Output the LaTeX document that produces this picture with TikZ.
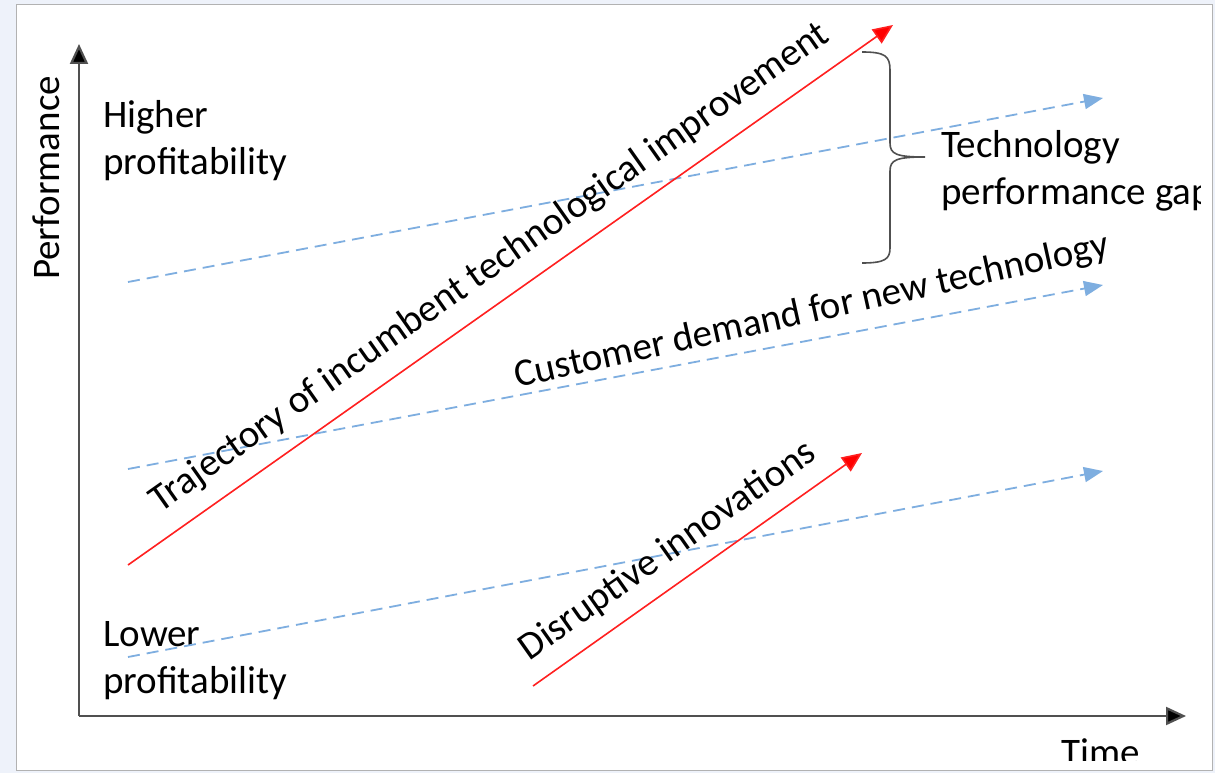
\documentclass[tikz,border=0pt]{standalone}
\usepackage{fontspec}
\setmainfont{Carlito}
\usetikzlibrary{arrows.meta}
\definecolor{panelbg}{HTML}{EEF2FA}
\definecolor{axisgray}{HTML}{505050}
\definecolor{demandblue}{HTML}{7EAEE0}
\definecolor{trajred}{HTML}{FF2020}

\begin{document}
\begin{tikzpicture}[x=1pt,y=-1pt,
    lbl/.style = {font=\fontsize{39}{47}\selectfont,inner sep=0pt,align=left},
    axis/.style = {draw=axisgray,line width=2.2pt,-{Triangle[length=20pt,width=18pt,fill=black]}},
    trend/.style = {draw=trajred,line width=1.6pt,-{Triangle[length=20pt,width=17pt,fill=red]}},
    demand/.style = {draw=demandblue,line width=1.8pt,dash pattern=on 12pt off 7pt,-{Triangle[length=19pt,width=15pt]}}]
\useasboundingbox (0,0) rectangle (1215,773);
\fill[panelbg] (0,0) rectangle (1215,773);
\filldraw[fill=white,draw=gray!60,line width=1pt] (16,5) rectangle (1212,770);
\begin{scope}
\clip (17,6) rectangle (1200,760);
% axes
\coordinate (o) at (79,716);
\coordinate (ytip) at (79,44);
\coordinate (xtip) at (1186,716);
\draw[axis] (o) -- (ytip);
\draw[axis] (o) -- (xtip);
\node[lbl,rotate=90] (perf) at (46,178) {Performance};
\node[lbl,anchor=north] (time) at (1101,738) {Time};
\node[lbl,anchor=north west] (high) at (103,100) {Higher\\profitability};
\node[lbl,anchor=north west] (low) at (103,621) {Lower\\profitability};
% customer demand lines
\foreach \ya/\yb [count=\k] in {282/98,469/285,657/471} {
    \coordinate (d\k a) at (128,\ya);
    \coordinate (d\k b) at (1103,\yb);
    \draw[demand] (d\k a) -- (d\k b);
}
% technology trajectories
\coordinate (inc a) at (128,565);
\coordinate (inc b) at (893,25);
\coordinate (dis a) at (533,686);
\coordinate (dis b) at (862,453);
\draw[trend] (inc a) -- (inc b);
\draw[trend] (dis a) -- (dis b);
\node[lbl,rotate=35.2] (inclbl) at (490,268) {Trajectory of incumbent technological improvement};
\node[lbl,rotate=12.5] (demlbl) at (812,312) {Customer demand for new technology};
\node[lbl,rotate=35.2] (dislbl) at (668,551) {Disruptive innovations};
% gap brace
\draw[axisgray,line width=1.6pt] (862,52) .. controls (885,52) and (890,56) .. (890,70) -- (890,143)
    .. controls (890,154) and (896,157) .. (925,157)
    .. controls (896,157) and (890,160) .. (890,171) -- (890,248)
    .. controls (890,259) and (885,263) .. (862,263);
\node[lbl,anchor=north west] (gap) at (941,130) {Technology\\performance gap};
\end{scope}
\end{tikzpicture}
\end{document}
